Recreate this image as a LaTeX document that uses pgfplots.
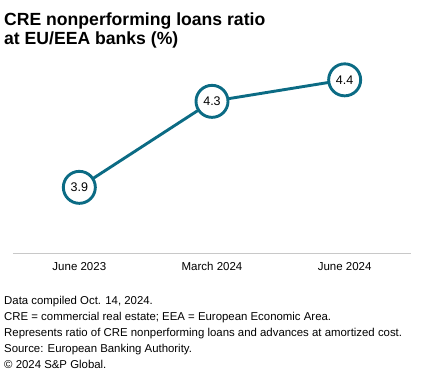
\documentclass[border=0pt]{standalone}
\usepackage{pgfplots}
\pgfplotsset{compat=1.18}
\usepackage{fontspec}
\setmainfont{Liberation Sans}
\definecolor{teal1}{HTML}{0B6B84}
\definecolor{base}{HTML}{C8C8C8}
\begin{document}
\begin{tikzpicture}
\useasboundingbox (0pt,0pt) rectangle (425pt,379pt);
\node[anchor=north west,align=left,font=\fontsize{17.6}{18.5}\selectfont\bfseries,inner sep=0pt] at (4pt,366pt) {CRE nonperforming loans ratio\\at EU/EEA banks (\%)};
\begin{axis}[
  at={(13pt,125pt)}, anchor=south west,
  scale only axis, width=398pt, height=195.65pt,
  xmin=-0.5, xmax=2.5, ymin=3.59, ymax=4.5,
  axis x line=bottom, axis y line=none,
  axis line style={base, line width=1pt, -},
  xtick=data, xticklabels={June 2023, March 2024, June 2024},
  major tick length=0pt,
  xticklabel style={font=\fontsize{11.5}{13}\selectfont, yshift=-5pt},
  clip=false,
  nodes near coords,
  nodes near coords align={center},
  every node near coord/.append style={font=\fontsize{12.5}{14}\selectfont, anchor=center, text=black},
  point meta=explicit symbolic,
]
\addplot[teal1, line width=2.9pt, mark=*, mark size=16pt,
  mark options={fill=white, draw=teal1, line width=2.9pt}]
  coordinates {(0,3.9)[3.9] (1,4.3)[4.3] (2,4.4)[4.4]};
\end{axis}
\node[anchor=north west,align=left,font=\fontsize{11.4}{16}\selectfont,inner sep=0pt] at (4pt,83pt) {Data compiled Oct. 14, 2024.\\CRE = commercial real estate; EEA = European Economic Area.\\Represents ratio of CRE nonperforming loans and advances at amortized cost.\\Source: European Banking Authority.\\\textcopyright{} 2024 S\&P Global.};
\end{tikzpicture}
\end{document}
